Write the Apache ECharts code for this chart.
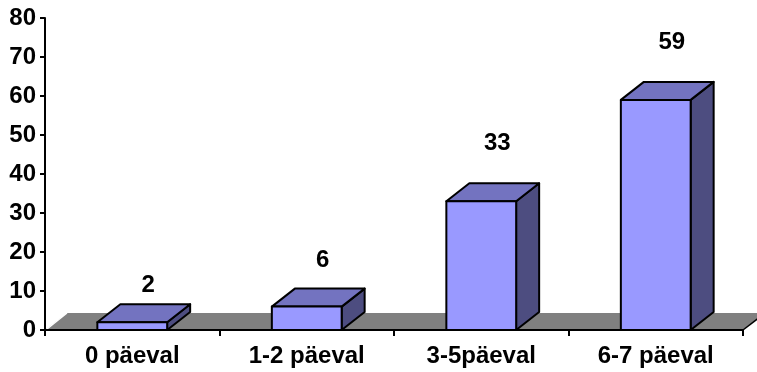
<!DOCTYPE html>
<html>
<head>
<meta charset="utf-8">
<script src="https://cdn.jsdelivr.net/npm/echarts@6/dist/echarts.min.js"></script>
<style>
  html, body { margin: 0; padding: 0; background: #ffffff; }
  #chart { width: 757px; height: 372px; }
</style>
</head>
<body>
<div id="chart"></div>
<script>
// Days per week (categories) and the share of respondents for each.
const categories = ['0 päeval', '1-2 päeval', '3-5päeval', '6-7 päeval'];
const values = [2, 6, 33, 59];
const yMin = 0;
const yMax = 80;
const yStep = 10;

const FONT = 'bold 24px "Liberation Sans", Arial, sans-serif';
// Oblique depth of the pseudo-3D columns and floor
const DEPTH_X = 23;
const DEPTH_Y = -18;
const FLOOR_DX = 22;
const FLOOR_DY = -17;

const chart = echarts.init(document.getElementById('chart'), null, { renderer: 'canvas' });

function renderFloor(params, api) {
  const cs = params.coordSys;
  const x0 = cs.x, x1 = cs.x + cs.width, y = cs.y + cs.height;
  return {
    type: 'group',
    children: [
      {
        type: 'polygon',
        shape: { points: [[x0, y], [x0 + FLOOR_DX, y + FLOOR_DY], [x1 + FLOOR_DX, y + FLOOR_DY], [x1, y]] },
        style: { fill: '#808080', stroke: null }
      },
      {
        type: 'line',
        shape: { x1: x0 + 2, y1: y - 1, x2: x0 + FLOOR_DX, y2: y + FLOOR_DY },
        style: { stroke: '#ffffff', lineWidth: 1.5 }
      },
      {
        type: 'line',
        shape: { x1: x1, y1: y, x2: x1 + FLOOR_DX, y2: y + FLOOR_DY },
        style: { stroke: '#000000', lineWidth: 1.5 }
      }
    ]
  };
}

function renderColumn(params, api) {
  const idx = api.value(0);
  const v = api.value(1);
  const top = api.coord([idx, v]);
  const base = api.coord([idx, 0]);
  const w = api.size([1, 0])[0] * 0.4;
  const l = top[0] - w / 2;
  const r = top[0] + w / 2;
  const ty = top[1];
  const by = base[1];
  const edge = { stroke: '#000000', lineWidth: 2, lineJoin: 'round' };
  // Labels float a little higher over the taller columns
  const lift = 30 + 28 * (1 - Math.exp(-v / 7));
  return {
    type: 'group',
    children: [
      {
        type: 'polygon',
        shape: { points: [[r, ty], [r + DEPTH_X, ty + DEPTH_Y], [r + DEPTH_X, by + DEPTH_Y], [r, by]] },
        style: Object.assign({ fill: '#4d4d80' }, edge)
      },
      {
        type: 'polygon',
        shape: { points: [[l, ty], [l + DEPTH_X, ty + DEPTH_Y], [r + DEPTH_X, ty + DEPTH_Y], [r, ty]] },
        style: Object.assign({ fill: '#7373c0' }, edge)
      },
      {
        type: 'rect',
        shape: { x: l, y: ty, width: w, height: by - ty },
        style: Object.assign({ fill: '#9999ff' }, edge)
      },
      {
        type: 'text',
        style: {
          text: String(v),
          x: top[0] + 16,
          y: ty - lift,
          font: FONT,
          fill: '#000000',
          align: 'center',
          verticalAlign: 'middle'
        }
      }
    ]
  };
}

chart.setOption({
  animation: false,
  backgroundColor: '#ffffff',
  grid: { left: 45, right: 14, top: 18, bottom: 42, containLabel: false },
  xAxis: {
    type: 'category',
    data: categories,
    z: 3,
    boundaryGap: true,
    axisLine: { show: true, lineStyle: { color: '#000000', width: 2 } },
    axisTick: { show: true, alignWithLabel: false, length: 6, lineStyle: { color: '#000000', width: 2 } },
    axisLabel: { margin: 14, color: '#000000', fontSize: 24, fontWeight: 'bold', fontFamily: '"Liberation Sans", Arial, sans-serif' },
    splitLine: { show: false }
  },
  yAxis: {
    type: 'value',
    min: yMin,
    max: yMax,
    interval: yStep,
    z: 3,
    axisLine: { show: true, lineStyle: { color: '#000000', width: 2 } },
    axisTick: { show: true, length: 5, lineStyle: { color: '#000000', width: 2 } },
    axisLabel: { margin: 9, color: '#000000', fontSize: 24, fontWeight: 'bold', fontFamily: '"Liberation Sans", Arial, sans-serif' },
    splitLine: { show: false }
  },
  series: [
    {
      type: 'custom',
      z: 1,
      clip: false,
      silent: true,
      renderItem: renderFloor,
      data: [[0, 0]]
    },
    {
      type: 'custom',
      z: 2,
      clip: false,
      renderItem: renderColumn,
      encode: { x: 0, y: 1 },
      data: values.map((v, i) => [i, v])
    }
  ]
});
</script>
</body>
</html>
